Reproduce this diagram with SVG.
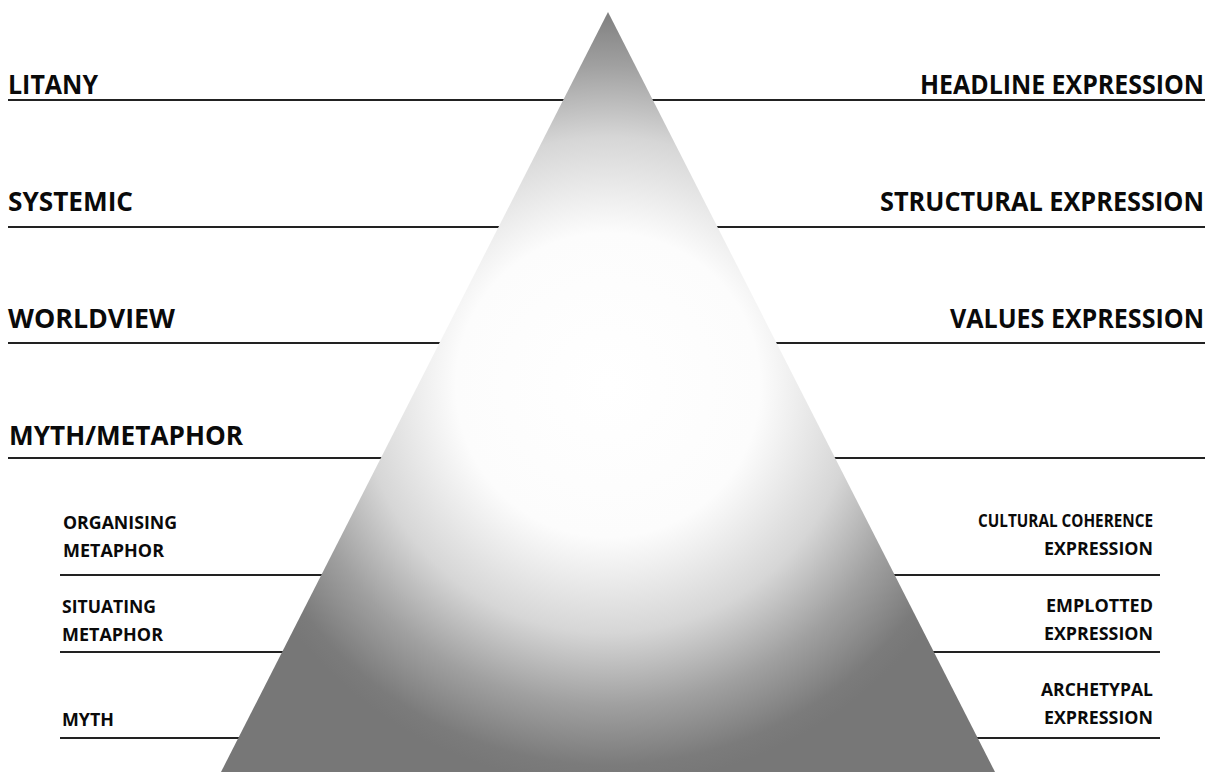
<svg xmlns="http://www.w3.org/2000/svg" width="1214" height="772" viewBox="0 0 1214 772">
  <defs>
    <radialGradient id="pyr" gradientUnits="userSpaceOnUse" cx="608" cy="385" r="400" fx="608" fy="385">
      <stop offset="0" stop-color="#ffffff"/>
      <stop offset="0.38" stop-color="#fcfcfc"/>
      <stop offset="0.62" stop-color="#d6d6d6"/>
      <stop offset="0.8" stop-color="#a0a0a0"/>
      <stop offset="0.95" stop-color="#7b7b7b"/>
      <stop offset="1" stop-color="#777777"/>
    </radialGradient>
    <style>
      .ln { stroke: #222; stroke-width: 2; fill: none; }
      .big { font-family: "Open Sans", "Liberation Sans", sans-serif; font-weight: 700; font-size: 26px; fill: #0a0a0a; }
      .sm { font-family: "Open Sans", "Liberation Sans", sans-serif; font-weight: 700; font-size: 17.5px; fill: #0a0a0a; }
      .r { text-anchor: end; }
    </style>
  </defs>
  <rect width="1214" height="772" fill="#ffffff"/>

  <g id="lines">
    <line class="ln" x1="8" y1="100" x2="1205" y2="100"/>
    <line class="ln" x1="8" y1="227" x2="1205" y2="227"/>
    <line class="ln" x1="8" y1="343" x2="1205" y2="343"/>
    <line class="ln" x1="8" y1="458" x2="1205" y2="458"/>
    <line class="ln" x1="60" y1="575" x2="1160" y2="575"/>
    <line class="ln" x1="60" y1="652" x2="1160" y2="652"/>
    <line class="ln" x1="60" y1="738" x2="1160" y2="738"/>
  </g>

  <g id="pyramid">
    <polygon points="608,12 995,772 221,772" fill="url(#pyr)"/>
  </g>

  <g id="left-labels">
    <text class="big" x="8" y="94" textLength="90" lengthAdjust="spacingAndGlyphs">LITANY</text>
    <text class="big" x="8" y="211" textLength="125" lengthAdjust="spacingAndGlyphs">SYSTEMIC</text>
    <text class="big" x="8" y="328" textLength="167" lengthAdjust="spacingAndGlyphs">WORLDVIEW</text>
    <text class="big" x="9" y="445" textLength="234" lengthAdjust="spacingAndGlyphs">MYTH/METAPHOR</text>
    <text class="sm" x="63" y="529" textLength="114" lengthAdjust="spacingAndGlyphs">ORGANISING</text>
    <text class="sm" x="63" y="557" textLength="101" lengthAdjust="spacingAndGlyphs">METAPHOR</text>
    <text class="sm" x="62" y="613" textLength="94" lengthAdjust="spacingAndGlyphs">SITUATING</text>
    <text class="sm" x="62" y="641" textLength="101" lengthAdjust="spacingAndGlyphs">METAPHOR</text>
    <text class="sm" x="62" y="726" textLength="52" lengthAdjust="spacingAndGlyphs">MYTH</text>
  </g>

  <g id="right-labels">
    <text class="big r" x="1204" y="94" textLength="284" lengthAdjust="spacingAndGlyphs">HEADLINE EXPRESSION</text>
    <text class="big r" x="1204" y="211" textLength="324" lengthAdjust="spacingAndGlyphs">STRUCTURAL EXPRESSION</text>
    <text class="big r" x="1204" y="328" textLength="254" lengthAdjust="spacingAndGlyphs">VALUES EXPRESSION</text>
    <text class="sm r" x="1153" y="527" textLength="175" lengthAdjust="spacingAndGlyphs">CULTURAL COHERENCE</text>
    <text class="sm r" x="1153" y="555" textLength="109" lengthAdjust="spacingAndGlyphs">EXPRESSION</text>
    <text class="sm r" x="1153" y="612" textLength="107" lengthAdjust="spacingAndGlyphs">EMPLOTTED</text>
    <text class="sm r" x="1153" y="640" textLength="109" lengthAdjust="spacingAndGlyphs">EXPRESSION</text>
    <text class="sm r" x="1153" y="696" textLength="112" lengthAdjust="spacingAndGlyphs">ARCHETYPAL</text>
    <text class="sm r" x="1153" y="724" textLength="109" lengthAdjust="spacingAndGlyphs">EXPRESSION</text>
  </g>
</svg>
